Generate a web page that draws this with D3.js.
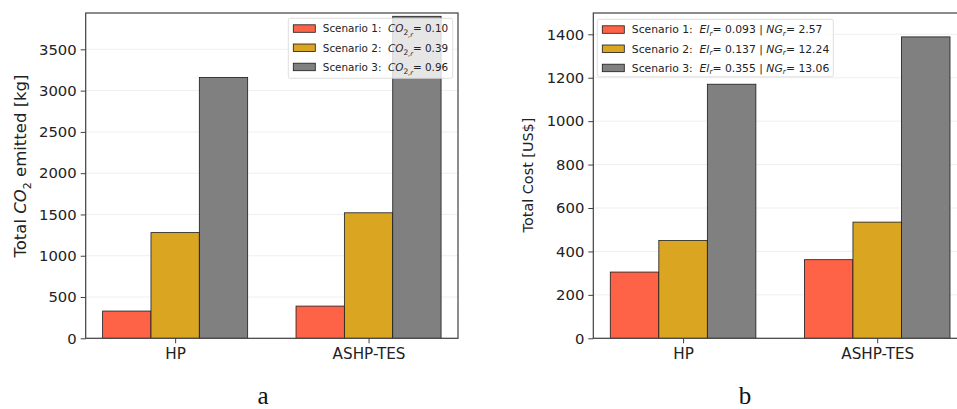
<!DOCTYPE html>
<html>
<head>
<meta charset="utf-8">
<script src="https://cdn.jsdelivr.net/npm/d3@7"></script>
<style>
  body { margin: 0; background: #fff; }
  svg { display: block; font-family: "DejaVu Sans", sans-serif; }
</style>
</head>
<body>
<svg id="chart" width="957" height="409"></svg>
<script>
// data
var systems = ["HP", "ASHP-TES"]
var scenarios = ["Scenario 1", "Scenario 2", "Scenario 3"]
var barColours = ["#ff6347", "#daa520", "#808080"]

var co2Values = [[330, 1280, 3160], [390, 1520, 3900]]   // kg, per system per scenario
var co2Ticks = [0, 500, 1000, 1500, 2000, 2500, 3000, 3500]
var co2Factors = ["0.10", "0.39", "0.96"]

var costValues = [[305, 450, 1170], [362, 535, 1388]]    // US$
var costTicks = [0, 200, 400, 600, 800, 1000, 1200, 1400]
var elFactors = ["0.093", "0.137", "0.355"]
var ngFactors = ["2.57", "12.24", "13.06"]

var svg = d3.select("#chart")

function drawPanel(cfg) {

  var g = svg.append("g")
  var x = d3.scaleLinear().domain([-0.4625, 1.4625]).range([cfg.left, cfg.right])
  var y = d3.scaleLinear().domain([0, cfg.ymax]).range([cfg.bottom, cfg.top])
  var bw = x(0.25) - x(0)

  var clipId = "clip_" + cfg.name
  svg.append("clipPath").attr("id", clipId)
    .append("rect")
      .attr("x", cfg.left).attr("y", cfg.top)
      .attr("width", cfg.right - cfg.left).attr("height", cfg.bottom - cfg.top)

  // grid behind bars
  g.selectAll(".grid").data(cfg.ticks).enter().append("line")
    .attr("x1", cfg.left).attr("x2", cfg.right)
    .attr("y1", function(d) { return y(d) }).attr("y2", function(d) { return y(d) })
    .style("stroke", "#ebebeb").style("stroke-width", 0.8)

  var bars = []
  cfg.values.forEach(function(row, i) {
    row.forEach(function(v, j) {
      bars.push({sys: i, sc: j, value: v})
    })
  })

  g.append("g").attr("clip-path", "url(#" + clipId + ")")
    .selectAll("rect").data(bars).enter().append("rect")
      .attr("x", function(d) { return x(d.sys + (d.sc - 1.5) * 0.25) })
      .attr("width", bw)
      .attr("y", function(d) { return y(d.value) })
      .attr("height", function(d) { return y(0) - y(d.value) })
      .style("fill", function(d) { return barColours[d.sc] })
      .style("stroke", "#1a1a1a").style("stroke-width", 0.8)

  // frame
  g.append("rect")
    .attr("x", cfg.left).attr("y", cfg.top)
    .attr("width", cfg.right - cfg.left).attr("height", cfg.bottom - cfg.top)
    .style("fill", "none").style("stroke", "#404040").style("stroke-width", 1.2)

  var yAxis = d3.axisLeft(y).tickValues(cfg.ticks).tickSize(5).tickPadding(4).tickFormat(d3.format("d"))
  var ya = g.append("g").attr("transform", "translate(" + cfg.left + ",0)").call(yAxis)
  ya.select(".domain").remove()
  ya.selectAll("line").style("stroke", "#404040")
  ya.selectAll("text").style("font-size", "14.8px").style("fill", "#222").style("font-family", "DejaVu Sans")

  var xAxis = d3.axisBottom(x).tickValues([0, 1]).tickSize(5).tickPadding(5)
    .tickFormat(function(d) { return systems[d] })
  var xa = g.append("g").attr("transform", "translate(0," + cfg.bottom + ")").call(xAxis)
  xa.select(".domain").remove()
  xa.selectAll("line").style("stroke", "#404040")
  xa.selectAll("text").style("font-size", "15.2px").style("fill", "#222").style("font-family", "DejaVu Sans")

  // y label
  var yl = g.append("text")
    .attr("transform", "translate(" + cfg.ylabelX + "," + cfg.ylabelY + ") rotate(-90)")
    .attr("text-anchor", "middle").style("font-size", cfg.ylabelSize + "px").style("fill", "#222")
  cfg.ylabel(yl)

  // legend
  var lg = g.append("g")
  lg.append("rect")
    .attr("x", cfg.leg.x).attr("y", cfg.leg.y).attr("width", cfg.leg.w).attr("height", cfg.leg.h)
    .attr("rx", 2)
    .style("fill", "#fff").style("fill-opacity", 0.8)
    .style("stroke", "#d6d6d6").style("stroke-width", 0.8)
  scenarios.forEach(function(s, i) {
    var ry = cfg.leg.y + 10 + i * 19.2
    lg.append("rect")
      .attr("x", cfg.leg.x + 5).attr("y", ry - 3.5).attr("width", 22).attr("height", 7.5)
      .style("fill", barColours[i]).style("stroke", "#1a1a1a").style("stroke-width", 0.8)
    var t = lg.append("text")
      .attr("x", cfg.leg.x + 34.5).attr("y", ry + 4)
      .style("font-size", cfg.leg.font + "px").style("fill", "#222")
    t.append("tspan").text(s + ":\u00a0\u00a0")
    cfg.legendText(t, i)
  })

  svg.append("text")
    .attr("x", cfg.captionX).attr("y", 404)
    .attr("text-anchor", "middle")
    .style("font-family", "Liberation Serif, serif").style("font-size", "25px").style("fill", "#111")
    .text(cfg.caption)
}

drawPanel({
  name: "co2", left: 85.7, right: 458, top: 13, bottom: 338.3, ymax: 3940,
  values: co2Values, ticks: co2Ticks,
  ylabelX: 26, ylabelY: 166, ylabelSize: 16.5,
  ylabel: function(t) {
    t.append("tspan").text("Total ")
    t.append("tspan").style("font-style", "italic").text("CO")
    t.append("tspan").attr("dy", 4.5).style("font-size", "11px").text("2")
    t.append("tspan").attr("dy", -4.5).text(" emitted [kg]")
  },
  leg: {x: 288.3, y: 18.3, w: 164.4, h: 60, font: 10.4},
  legendText: function(t, i) {
    t.append("tspan").style("font-style", "italic").text("CO")
    t.append("tspan").attr("dy", 3).style("font-size", "7.5px").text("2")
    t.append("tspan").attr("dy", 1.5).style("font-size", "6.5px").style("font-style", "italic").text(",r")
    t.append("tspan").attr("dy", -4.5).text("= " + co2Factors[i])
  },
  captionX: 263, caption: "a"
})

drawPanel({
  name: "cost", left: 593.3, right: 967, top: 13, bottom: 338.3, ymax: 1498,
  values: costValues, ticks: costTicks,
  ylabelX: 533, ylabelY: 175, ylabelSize: 14.4,
  ylabel: function(t) {
    t.text("Total Cost [US$]")
  },
  leg: {x: 597.3, y: 19.3, w: 236, h: 57.5, font: 10.8},
  legendText: function(t, i) {
    t.append("tspan").style("font-style", "italic").text("El")
    t.append("tspan").attr("dy", 2.5).style("font-size", "7.5px").style("font-style", "italic").text("r")
    t.append("tspan").attr("dy", -2.5).text("= " + elFactors[i] + " | ")
    t.append("tspan").style("font-style", "italic").text("NG")
    t.append("tspan").attr("dy", 2.5).style("font-size", "7.5px").style("font-style", "italic").text("r")
    t.append("tspan").attr("dy", -2.5).text("= " + ngFactors[i])
  },
  captionX: 745, caption: "b"
})
</script>
</body>
</html>
